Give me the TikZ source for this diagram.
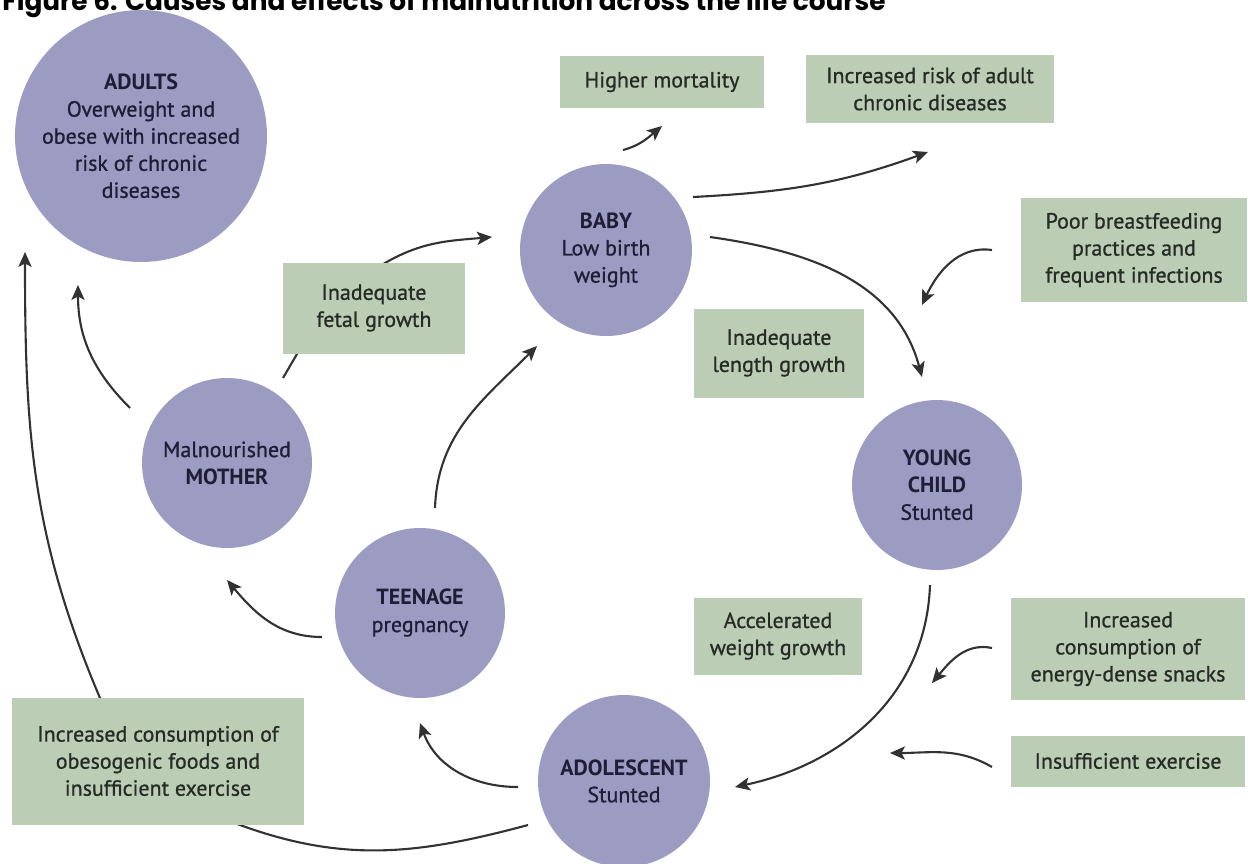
\documentclass[tikz,border=0pt]{standalone}
\usepackage{fontspec}
\setmainfont{PT Sans}[UprightFeatures={FakeBold=0.9}]
\newfontfamily\titlefont{Poppins}
\usetikzlibrary{arrows.meta}
\definecolor{stagefill}{RGB}{156,156,194}
\definecolor{boxfill}{RGB}{187,205,181}
\definecolor{arrowgray}{RGB}{50,50,50}
\definecolor{stagetext}{RGB}{30,30,56}
\definecolor{boxtext}{RGB}{38,44,36}

\begin{document}
\begin{tikzpicture}[
  x=0.02cm, y=0.02cm,
  > = {Stealth[length=8.5pt,width=7.5pt,inset=2pt]},
  stage/.style = {circle, fill=stagefill, text=stagetext, inner sep=0pt, align=center, font=\fontsize{12.5}{15.4}\selectfont},
  cause/.style = {rectangle, fill=boxfill, text=boxtext, inner sep=0pt, align=center, font=\fontsize{12.5}{15.4}\selectfont},
  flow/.style = {->, draw=arrowgray, line width=1.2pt}
  ]
	\useasboundingbox (0,0) rectangle (1248,-863);
	\clip (0,0) rectangle (1248,-863);

	\node[anchor=base west, inner sep=0pt, font=\titlefont\bfseries\fontsize{15}{17}\selectfont] (title) at (2,-10) {Figure 6: Causes and effects of malnutrition across the life course};

	% life stages
	\node[stage, minimum size=5.04cm] (adults) at (141,-136) {\textbf{ADULTS}\\Overweight and\\obese with increased\\risk of chronic\\diseases};
	\node[stage, minimum size=3.44cm] (baby) at (606,-250) {\textbf{BABY}\\Low birth\\weight};
	\node[stage, minimum size=3.4cm] (mother) at (227,-463) {Malnourished\\\textbf{MOTHER}};
	\node[stage, minimum size=3.4cm] (teen) at (420,-613) {\textbf{TEENAGE}\\pregnancy};
	\node[stage, minimum size=3.4cm] (child) at (937,-485) {\textbf{YOUNG}\\\textbf{CHILD}\\Stunted};
	\node[stage, minimum size=3.44cm] (adol) at (624,-781) {\textbf{ADOLESCENT}\\Stunted};

	% arrow ends
	\coordinate (b1) at (623,-150); \coordinate (b2) at (662,-126);
	\coordinate (b3) at (693,-197); \coordinate (b4) at (928,-152);
	\coordinate (b5) at (710,-237); \coordinate (b6) at (922,-377);
	\coordinate (p1) at (992,-250); \coordinate (p2) at (922,-305);
	\coordinate (c1) at (930,-585); \coordinate (c2) at (735,-787);
	\coordinate (e1) at (992,-648); \coordinate (e2) at (932,-683);
	\coordinate (x1) at (992,-767); \coordinate (x2) at (890,-753);
	\coordinate (a1) at (518,-787); \coordinate (a2) at (420,-723);
	\coordinate (o1) at (528,-825); \coordinate (o2) at (240,-825);
	\coordinate (o3) at (100,-698); \coordinate (o4) at (25,-252);
	\coordinate (t1) at (322,-637); \coordinate (t2) at (227,-580);
	\coordinate (t3) at (435,-508); \coordinate (t4) at (537,-346);
	\coordinate (m1) at (130,-408); \coordinate (m2) at (78,-285);
	\coordinate (m3) at (283,-378); \coordinate (m4) at (297,-354);
	\coordinate (m5) at (385,-263); \coordinate (m6) at (492,-237);

	\draw[flow] (b1) to[out=15,in=220] (b2);
	\draw[flow] (b3) to[out=3,in=200] (b4);
	\draw[flow] (b5) to[out=-8,in=105] (b6);
	\draw[flow] (p1) to[out=172,in=65] (p2);
	\draw[flow] (c1) to[out=-92,in=12] (c2);
	\draw[flow] (e1) to[out=168,in=50] (e2);
	\draw[flow] (x1) to[out=150,in=0] (x2);
	\draw[flow] (a1) to[out=180,in=-70] (a2);
	\draw[flow] (o1) to[out=195,in=-20] (o2) to[out=160,in=-67] (o3) to[out=113,in=-90] (o4);
	\draw[flow] (t1) to[out=180,in=-50] (t2);
	\draw[flow] (t3) to[out=88,in=225] (t4);
	\draw[flow] (m1) to[out=135,in=-90] (m2);
	\draw[flow] (m3) -- (m4) to[out=60,in=210] (m5) to[out=30,in=185] (m6);

	% causes and effects
	\node[cause, minimum width=4.1cm, minimum height=1.04cm] (mortality) at (662,-82) {Higher mortality};
	\node[cause, minimum width=4.98cm, minimum height=1.36cm] (chronic) at (930,-89) {Increased risk of adult\\chronic diseases};
	\node[cause, minimum width=4.52cm, minimum height=2.08cm] (breast) at (1134,-250) {Poor breastfeeding\\practices and\\frequent infections};
	\node[cause, minimum width=3.66cm, minimum height=1.82cm] (fetal) at (374,-308) {Inadequate\\fetal growth};
	\node[cause, minimum width=3.4cm, minimum height=1.78cm] (length) at (779,-353) {Inadequate\\length growth};
	\node[cause, minimum width=3.38cm, minimum height=1.54cm] (accel) at (778,-636) {Accelerated\\weight growth};
	\node[cause, minimum width=4.7cm, minimum height=2.04cm] (energy) at (1128,-649) {Increased\\consumption of\\energy-dense snacks};
	\node[cause, minimum width=4.7cm, minimum height=1.02cm] (exercise) at (1128,-761) {Insufficient exercise};
	\node[cause, minimum width=5.86cm, minimum height=2.54cm] (obeso) at (158,-761) {Increased consumption of\\obesogenic foods and\\insufficient exercise};
\end{tikzpicture}
\end{document}
